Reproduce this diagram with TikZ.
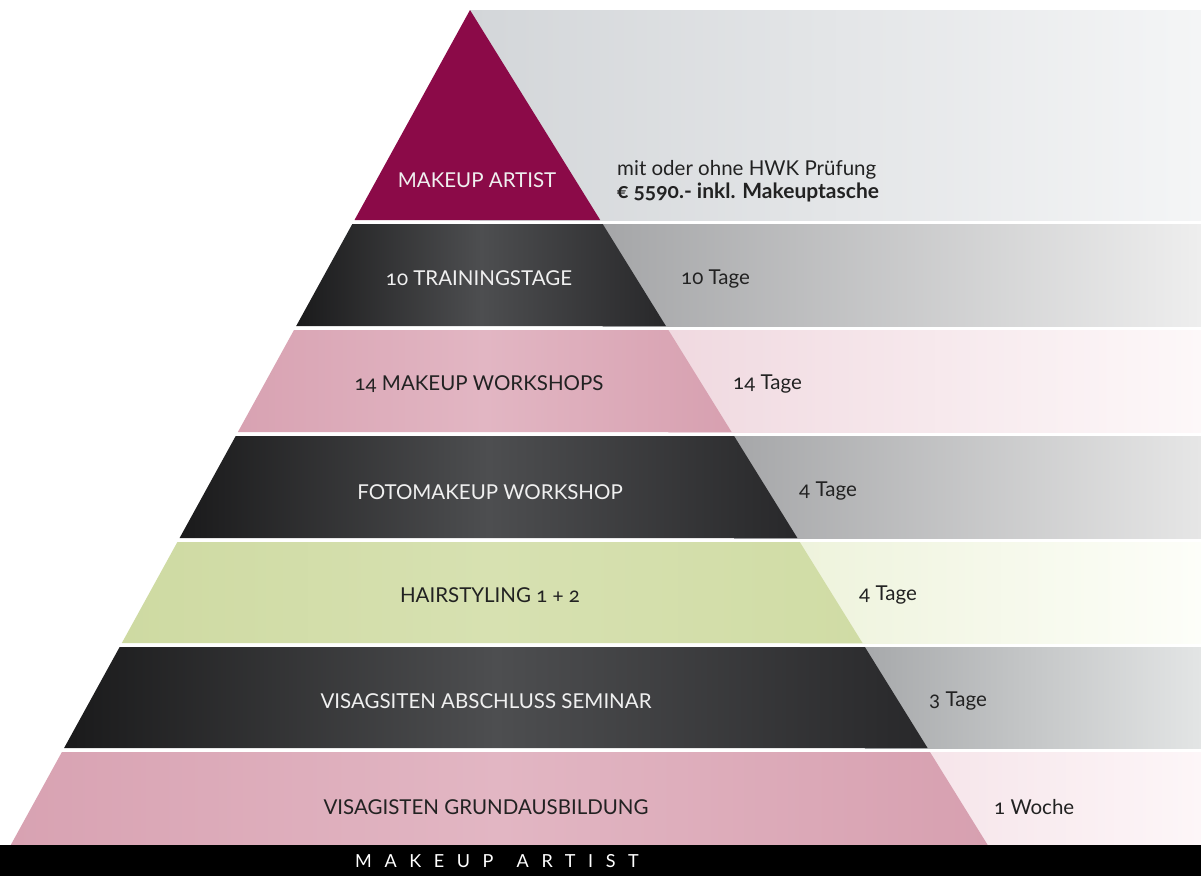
\documentclass[tikz,border=0pt]{standalone}
\usepackage{fontspec}
\setmainfont{Lato}[Numbers=OldStyle]
\usetikzlibrary{calc}
\definecolor{maroon}{HTML}{8B0A48}
\definecolor{darkA}{HTML}{1A1A1B}
\definecolor{darkB}{HTML}{4D4E50}
\definecolor{darkC}{HTML}{28282A}
\definecolor{pinkA}{HTML}{D8A2B2}
\definecolor{pinkB}{HTML}{E2B6C3}
\definecolor{pinkC}{HTML}{D7A0B0}
\definecolor{greenA}{HTML}{CEDAA2}
\definecolor{greenB}{HTML}{D7E1B1}
\definecolor{greenC}{HTML}{D0DCA5}
\definecolor{txtdark}{HTML}{222222}
\definecolor{txtlight}{HTML}{F0F0F0}
\tikzset{
  darklayer/.style={left color=darkA, right color=darkC, middle color=darkB, draw=none},
  pinklayer/.style={left color=pinkA, right color=pinkC, middle color=pinkB, draw=none},
  greenlayer/.style={left color=greenA, right color=greenC, middle color=greenB, draw=none},
  band/.style={draw=none},
  ltext/.style={font=\fontsize{20.5}{22}\selectfont, text=txtlight, inner sep=0pt},
  dtext/.style={font=\fontsize{20.5}{22}\selectfont, text=txtdark, inner sep=0pt},
  rtext/.style={font=\fontsize{20.5}{22}\selectfont, text=txtdark, anchor=west, inner sep=0pt},
}
\begin{document}
\begin{tikzpicture}[x=1pt,y=-1pt]
\useasboundingbox (0,0) rectangle (1201,876);
\fill[white] (0,0) rectangle (1201,876);
% right bands
\shade[band, left color={rgb,255:red,211;green,214;blue,217}, right color={rgb,255:red,244;green,245;blue,246}] (470,10) rectangle (1201,220);
\shade[band, left color={rgb,255:red,165;green,166;blue,168}, right color={rgb,255:red,238;green,238;blue,238}] (602.7,224) rectangle (1201,326);
\shade[band, left color={rgb,255:red,240;green,217;blue,224}, right color={rgb,255:red,253;green,248;blue,249}] (668.4,330) rectangle (1201,432);
\shade[band, left color={rgb,255:red,166;green,167;blue,169}, right color={rgb,255:red,230;green,230;blue,230}] (734.1,436) rectangle (1201,538);
\shade[band, left color={rgb,255:red,238;green,243;blue,220}, right color={rgb,255:red,253;green,254;blue,249}] (799.8,542) rectangle (1201,643);
\shade[band, left color={rgb,255:red,167;green,169;blue,171}, right color={rgb,255:red,227;green,229;blue,229}] (864.9,647) rectangle (1201,748);
\shade[band, left color={rgb,255:red,246;green,229;blue,234}, right color={rgb,255:red,253;green,246;blue,248}] (930,752) rectangle (1201,845);
% pyramid layers
\fill[maroon] (470,10) -- (600.2,220) -- (354.5,220) -- cycle;
\shade[darklayer] (352.3,224) -- (602.7,224) -- (665.9,326) -- (296.2,326) -- cycle;
\shade[pinklayer] (294,330) -- (668.4,330) -- (731.6,432) -- (237.9,432) -- cycle;
\shade[darklayer] (235.7,436) -- (734.1,436) -- (797.4,538) -- (179.6,538) -- cycle;
\shade[greenlayer] (177.4,542) -- (799.8,542) -- (862.5,643) -- (121.85,643) -- cycle;
\shade[darklayer] (119.65,647) -- (864.9,647) -- (927.6,748) -- (64.1,748) -- cycle;
\shade[pinklayer] (61.9,752) -- (930,752) -- (987.7,845) -- (10.75,845) -- cycle;
% bottom bar
\fill[black] (0,845) rectangle (1201,876);
% texts
\node[ltext] (l1) at (477,180) {MAKEUP ARTIST};
\node[ltext] (l2) at (479,278) {10 TRAININGSTAGE};
\node[dtext] (l3) at (479,384) {14 MAKEUP WORKSHOPS};
\node[ltext] (l4) at (490,492) {FOTOMAKEUP WORKSHOP};
\node[dtext] (l5) at (490,595) {HAIRSTYLING 1 + 2};
\node[ltext] (l6) at (486,701) {VISAGSITEN ABSCHLUSS SEMINAR};
\node[dtext] (l7) at (486,807) {VISAGISTEN GRUNDAUSBILDUNG};
\node[rtext] (r1a) at (617,170) {mit oder ohne HWK Prüfung};
\node[rtext, font=\fontsize{21}{22}\selectfont\bfseries] (r1b) at (617,192) {€ 5590.- inkl. Makeuptasche};
\node[rtext] (r2) at (681,279) {10 Tage};
\node[rtext] (r3) at (733,384) {14 Tage};
\node[rtext] (r4) at (799,491) {4 Tage};
\node[rtext] (r5) at (859,595) {4 Tage};
\node[rtext] (r6) at (929,701) {3 Tage};
\node[rtext] (r7) at (994,807) {1 Woche};
\node[font=\fontsize{18}{20}\selectfont\addfontfeature{LetterSpace=70}, text=white, inner sep=0pt] (foot) at (497,861) {MAKEUP\hspace{6pt} ARTIST};
\end{tikzpicture}
\end{document}
